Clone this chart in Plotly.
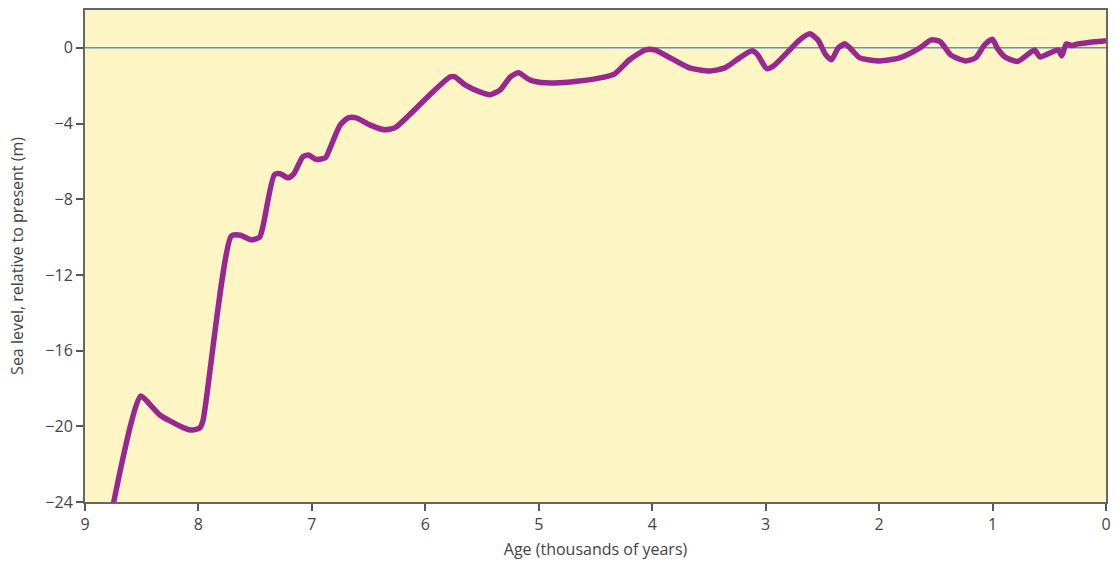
import plotly.graph_objects as go

age = [8.78, 8.51, 8.42, 8.34, 8.16, 8.07, 7.99, 7.96, 7.71, 7.63, 7.53, 7.46, 7.43,
       7.33, 7.28, 7.21, 7.16, 7.08, 7.03, 6.96, 6.88, 6.84, 6.75, 6.68, 6.61, 6.49,
       6.36, 6.27, 6.14, 5.96, 5.78, 5.74, 5.65, 5.52, 5.43, 5.34, 5.25, 5.18, 5.08,
       4.94, 4.72, 4.46, 4.33, 4.20, 4.06, 3.98, 3.84, 3.67, 3.49, 3.36, 3.23, 3.12,
       3.07, 2.99, 2.92, 2.83, 2.70, 2.61, 2.54, 2.47, 2.42, 2.36, 2.30, 2.24, 2.17,
       1.99, 1.82, 1.64, 1.54, 1.46, 1.37, 1.24, 1.15, 1.07, 1.00, 0.96, 0.89, 0.78,
       0.67, 0.63, 0.58, 0.49, 0.42, 0.39, 0.35, 0.30, 0.25, 0.18, 0.10, 0.00]
sea_level = [-25.0, -18.4, -18.9, -19.4, -20.0, -20.2, -20.1, -19.7, -9.94, -9.9, -10.15, -10.0, -9.4,
             -6.7, -6.65, -6.87, -6.66, -5.76, -5.66, -5.9, -5.8, -5.3, -4.07, -3.7, -3.7, -4.07,
             -4.33, -4.23, -3.54, -2.48, -1.53, -1.53, -1.96, -2.33, -2.48, -2.22, -1.53, -1.32, -1.69,
             -1.85, -1.80, -1.59, -1.37, -0.63, -0.11, -0.11, -0.53, -1.06, -1.22, -1.06, -0.53, -0.16,
             -0.37, -1.10, -0.9, -0.37, 0.42, 0.74, 0.42, -0.37, -0.63, 0.0, 0.21, -0.11, -0.53,
             -0.69, -0.53, 0.0, 0.42, 0.32, -0.37, -0.69, -0.53, 0.16, 0.45, 0.0, -0.48, -0.72,
             -0.26, -0.11, -0.48, -0.26, -0.11, -0.42, 0.20, 0.12, 0.21, 0.26, 0.32, 0.38]

x_ticks = [9, 8, 7, 6, 5, 4, 3, 2, 1, 0]
y_ticks = [0, -4, -8, -12, -16, -20, -24]

fig = go.Figure()
fig.add_trace(go.Scatter(
    x=age, y=sea_level, mode="lines",
    line=dict(color="#98288F", width=5.5, shape="spline", smoothing=0.6),
    hoverinfo="skip", showlegend=False,
))
fig.add_hline(y=0, line=dict(color="#5B8FD6", width=1.5), layer="below")

tick_font = dict(family="Open Sans, Lato, sans-serif", size=16, color="#444444")
title_font = dict(family="Open Sans, Lato, sans-serif", size=16, color="#444444")
fig.update_layout(
    width=1115, height=564,
    margin=dict(l=85, r=9, t=10, b=62),
    paper_bgcolor="white",
    plot_bgcolor="#FDF6C4",
    xaxis=dict(
        range=[9, 0], tickvals=x_ticks, ticktext=[str(v) for v in x_ticks],
        ticks="outside", ticklen=7, tickwidth=1.5, tickcolor="#555555",
        showline=True, linecolor="#666666", linewidth=2, mirror=True,
        showgrid=False, zeroline=False, tickfont=tick_font, automargin=False,
        title=dict(text="Age (thousands of years)", font=title_font, standoff=10),
    ),
    yaxis=dict(
        range=[-24, 2], tickvals=y_ticks,
        ticks="outside", ticklen=7, tickwidth=1.5, tickcolor="#555555",
        showline=True, linecolor="#666666", linewidth=2, mirror=True,
        showgrid=False, zeroline=False, tickfont=tick_font, automargin=False,
        title=dict(text="Sea level, relative to present (m)", font=title_font, standoff=18),
    ),
)
fig.write_html("out.html", config={"displayModeBar": False},
               post_script="document.body.style.margin='0';document.body.style.overflow='hidden';")
